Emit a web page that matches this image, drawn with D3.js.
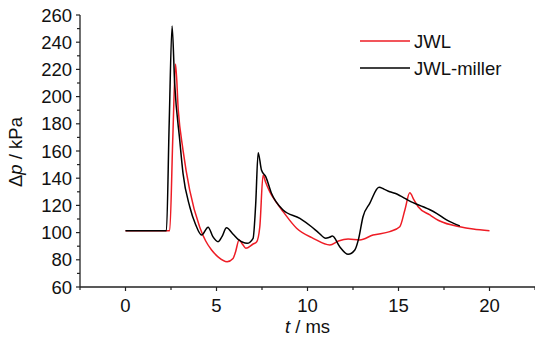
<!DOCTYPE html>
<html>
<head>
<meta charset="utf-8">
<script src="https://cdn.jsdelivr.net/npm/d3@7"></script>
<style>
  body { margin: 0; background: #fff; }
  text { font-family: "Liberation Sans", Arial, sans-serif; fill: #111; }
</style>
</head>
<body>
<script>
// chart size
var width = 535;
var height = 337;

// JWL curve (time in ms, overpressure in kPa)
var tRed = [0, 2.43, 2.6, 2.75, 2.9, 3.16, 3.53, 4.08, 4.4, 4.73, 5.1, 5.58, 5.91, 6.05, 6.24, 6.45, 6.61, 7.01, 7.2, 7.38, 7.56, 7.7, 7.93, 8.3, 8.66, 9.4, 10.31, 11.23, 11.7, 12.23, 12.87, 13.6, 14.52, 15.07, 15.35, 15.62, 15.85, 16.08, 16.72, 17.27, 18.37, 19.1, 20.0];
var pRed = [101.4, 101.4, 170, 224, 190, 160.7, 131, 104, 94, 87.2, 82, 78.6, 81, 86, 94.6, 91, 88.5, 91.6, 93, 104.3, 142.3, 137, 130, 122, 115.4, 103.2, 95.8, 90.9, 93.8, 95.3, 94.6, 98.2, 100.7, 104.3, 116.6, 129.3, 124, 119, 113, 108.5, 104.3, 102.6, 101.4];

// JWL-miller curve
var tBlack = [0, 2.25, 2.4, 2.56, 2.7, 2.98, 3.16, 3.53, 3.85, 4.18, 4.54, 4.8, 5.09, 5.3, 5.55, 5.9, 6.19, 6.68, 7.01, 7.15, 7.29, 7.47, 7.71, 8.02, 8.66, 9.58, 10.22, 10.6, 11.0, 11.2, 11.37, 11.77, 12.23, 12.6, 12.8, 13.05, 13.42, 13.93, 14.2, 14.52, 14.8, 15.1, 15.44, 15.8, 16.35, 16.7, 17.09, 17.64, 18.0, 18.37];
var pBlack = [101.4, 101.4, 180, 252, 210, 168, 143.6, 119, 106, 98.2, 104, 97, 93.3, 97, 103.6, 99, 95, 92.1, 95.8, 120, 158.8, 146, 141, 128.9, 116.6, 110.5, 104.3, 100, 95.8, 96.5, 97.5, 89.6, 84, 87.2, 95, 111.7, 121.5, 133.3, 132, 130, 128.9, 127, 124.5, 122, 119, 117, 114.2, 109.3, 107, 104.9];

// ticks
var xTicks = [0, 5, 10, 15, 20];
var xMinor = [-2.5, 2.5, 7.5, 12.5, 17.5, 22.5];
var yTicks = [60, 80, 100, 120, 140, 160, 180, 200, 220, 240, 260];
var yMinor = [70, 90, 110, 130, 150, 170, 190, 210, 230, 250];

var legendNames = ["JWL", "JWL-miller"];
var colors = ["#ee1c25", "#000000"];

var svg = d3.select("body")
  .append("svg")
  .attr("width", width)
  .attr("height", height);

var x = d3.scaleLinear().domain([-2.5, 22.5]).range([80, 535]);
var y = d3.scaleLinear().domain([60, 260]).range([287, 15]);

// x axis
var xAxis = svg.append("g")
  .attr("transform", "translate(0," + y(60) + ")");
xAxis.append("line")
  .attr("x1", x(-2.5)).attr("x2", width)
  .attr("stroke", "#222").attr("stroke-width", 1.3);
xAxis.selectAll(".xmaj")
  .data(xTicks)
  .enter()
  .append("line")
  .attr("x1", function(d) { return x(d); })
  .attr("x2", function(d) { return x(d); })
  .attr("y1", 0).attr("y2", 4)
  .attr("stroke", "#222").attr("stroke-width", 1.2);
xAxis.selectAll(".xmin")
  .data(xMinor)
  .enter()
  .append("line")
  .attr("x1", function(d) { return x(d); })
  .attr("x2", function(d) { return x(d); })
  .attr("y1", 0).attr("y2", 3)
  .attr("stroke", "#222").attr("stroke-width", 1.2);
xAxis.selectAll(".xlab")
  .data(xTicks)
  .enter()
  .append("text")
  .attr("x", function(d) { return x(d); })
  .attr("y", 25)
  .attr("text-anchor", "middle")
  .style("font-size", "18.5px")
  .text(function(d) { return d; });

// y axis
var yAxis = svg.append("g")
  .attr("transform", "translate(" + x(-2.5) + ",0)");
yAxis.append("line")
  .attr("y1", y(60)).attr("y2", y(260))
  .attr("stroke", "#222").attr("stroke-width", 1.3);
yAxis.selectAll(".ymaj")
  .data(yTicks)
  .enter()
  .append("line")
  .attr("y1", function(d) { return y(d); })
  .attr("y2", function(d) { return y(d); })
  .attr("x1", 0).attr("x2", -4)
  .attr("stroke", "#222").attr("stroke-width", 1.2);
yAxis.selectAll(".ymin")
  .data(yMinor)
  .enter()
  .append("line")
  .attr("y1", function(d) { return y(d); })
  .attr("y2", function(d) { return y(d); })
  .attr("x1", 0).attr("x2", -3)
  .attr("stroke", "#222").attr("stroke-width", 1.2);
yAxis.selectAll(".ylab")
  .data(yTicks)
  .enter()
  .append("text")
  .attr("x", -8)
  .attr("y", function(d) { return y(d) + 6.5; })
  .attr("text-anchor", "end")
  .style("font-size", "18.5px")
  .text(function(d) { return d; });

// axis titles
var xt = svg.append("text")
  .attr("x", x(10))
  .attr("y", 333)
  .attr("text-anchor", "middle")
  .style("font-size", "18.5px");
xt.append("tspan").style("font-style", "italic").text("t");
xt.append("tspan").text(" / ms");

var yt = svg.append("text")
  .attr("transform", "translate(22," + 152 + ") rotate(-90)")
  .attr("text-anchor", "middle")
  .style("font-size", "18.5px");
yt.append("tspan").text("\u0394");
yt.append("tspan").style("font-style", "italic").text("p");
yt.append("tspan").text(" / kPa");

// lines
var line = d3.line()
  .x(function(d) { return x(d[0]); })
  .y(function(d) { return y(d[1]); })
  .curve(d3.curveMonotoneX);

var redData = d3.zip(tRed, pRed);
var blackData = d3.zip(tBlack, pBlack);

svg.append("path")
  .datum(redData)
  .attr("d", line)
  .attr("fill", "none")
  .attr("stroke", colors[0])
  .attr("stroke-width", 1.5);

svg.append("path")
  .datum(blackData)
  .attr("d", line)
  .attr("fill", "none")
  .attr("stroke", colors[1])
  .attr("stroke-width", 1.5);

// legend
var legend = svg.selectAll(".legend")
  .data(legendNames)
  .enter()
  .append("g")
  .attr("transform", function(d, i) { return "translate(360," + (41 + i * 27) + ")"; });
legend.append("line")
  .attr("x1", 0).attr("x2", 50)
  .attr("stroke", function(d, i) { return colors[i]; })
  .attr("stroke-width", 1.5);
legend.append("text")
  .attr("x", 54)
  .attr("y", 7)
  .style("font-size", "18.5px")
  .text(function(d) { return d; });
</script>
</body>
</html>
